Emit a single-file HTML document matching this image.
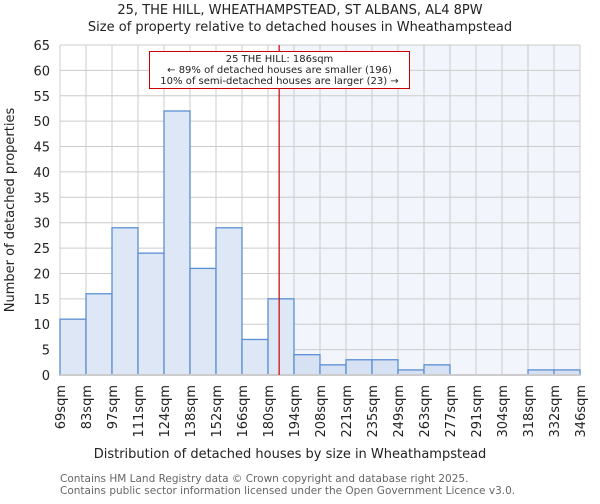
<!DOCTYPE html>
<html><head><meta charset="utf-8"><style>
body{margin:0;background:#fff;font-family:"DejaVu Sans","Liberation Sans",sans-serif}
</style></head><body>
<svg id="chart" width="600" height="500" xmlns="http://www.w3.org/2000/svg" font-family="DejaVu Sans, Liberation Sans, sans-serif">
<text x="300" y="14" text-anchor="middle" font-size="13" fill="#222">25, THE HILL, WHEATHAMPSTEAD, ST ALBANS, AL4 8PW</text>
<text x="300" y="31" text-anchor="middle" font-size="13" fill="#222">Size of property relative to detached houses in Wheathampstead</text>
<g id="plot"></g>
<text transform="translate(14,210) rotate(-90)" text-anchor="middle" font-size="13" fill="#222">Number of detached properties</text>
<text x="290" y="458" text-anchor="middle" font-size="13" fill="#222">Distribution of detached houses by size in Wheathampstead</text>
<text x="60" y="482" font-size="10.5" fill="#666">Contains HM Land Registry data © Crown copyright and database right 2025.</text>
<text x="60" y="494" font-size="10.5" fill="#666">Contains public sector information licensed under the Open Government Licence v3.0.</text>
</svg>
<script>
const binLabels=["69sqm","83sqm","97sqm","111sqm","124sqm","138sqm","152sqm","166sqm","180sqm","194sqm","208sqm","221sqm","235sqm","249sqm","263sqm","277sqm","291sqm","304sqm","318sqm","332sqm","346sqm"];
const binEdges=[69,83,97,111,124,138,152,166,180,194,208,221,235,249,263,277,291,304,318,332,346];
const counts=[11,16,29,24,52,21,29,7,15,4,2,3,3,1,2,0,0,0,1,1];
const yTicks=[0,5,10,15,20,25,30,35,40,45,50,55,60,65];
const subjectSize=186;
const NS="http://www.w3.org/2000/svg";
const X0=60,X1=580,Y0=375,Y1=45,YMAX=65;
const nb=counts.length;
function xIdx(i){return X0+(X1-X0)*i/nb;}
function xVal(v){let i=0;while(i<nb-1&&v>binEdges[i+1])i++;return xIdx(i)+(v-binEdges[i])/(binEdges[i+1]-binEdges[i])*(X1-X0)/nb;}
function y(v){return Y0-(Y0-Y1)*v/YMAX;}
const g=document.getElementById('plot');
function mk(t,a){const e=document.createElementNS(NS,t);for(const k in a)e.setAttribute(k,a[k]);g.appendChild(e);return e;}
const xs=xVal(subjectSize);
const sh=mk('rect',{x:xs,y:Y1,width:X1-xs,height:Y0-Y1,fill:'#f2f5fc'});


yTicks.forEach(t=>{const l=mk('line',{x1:X0,x2:X1,y1:y(t),y2:y(t),stroke:'#ccc','stroke-width':1});


const tx=mk('text',{x:X0-10,y:y(t)+5,'text-anchor':'end','font-size':13,fill:'#222'});tx.textContent=t;

});
binLabels.forEach((b,i)=>{const x=xIdx(i);const l=mk('line',{x1:x,x2:x,y1:Y1,y2:Y0,stroke:'#ccc','stroke-width':1});


const tx=mk('text',{transform:`translate(${x+5},385) rotate(-90)`,'text-anchor':'end','font-size':13,fill:'#222'});tx.textContent=b;

});
counts.forEach((c,i)=>{if(c<=0)return;const x=xIdx(i);const r=mk('rect',{x:x,y:y(c),width:(X1-X0)/nb,height:Y0-y(c),fill:x>=xs-1?'#d6e1f3':'#dde7f5',stroke:'#5b8fd4','stroke-width':1.3});

});
const ax=mk('line',{x1:X0,x2:X1,y1:Y0,y2:Y0,stroke:'#ccc','stroke-width':2});


const rl=mk('line',{x1:xs,x2:xs,y1:Y1,y2:Y0,stroke:'#cc0000','stroke-width':1.2});


const bx=mk('rect',{x:149.5,y:51.5,width:260,height:37,fill:'#fff',stroke:'#cc0000','stroke-width':1});


["25 THE HILL: 186sqm","← 89% of detached houses are smaller (196)","10% of semi-detached houses are larger (23) →"].forEach((s,i)=>{const t=mk('text',{x:279.5,y:62+i*11,'text-anchor':'middle','font-size':10,fill:'#222'});t.textContent=s;

});
</script>
</body></html>
